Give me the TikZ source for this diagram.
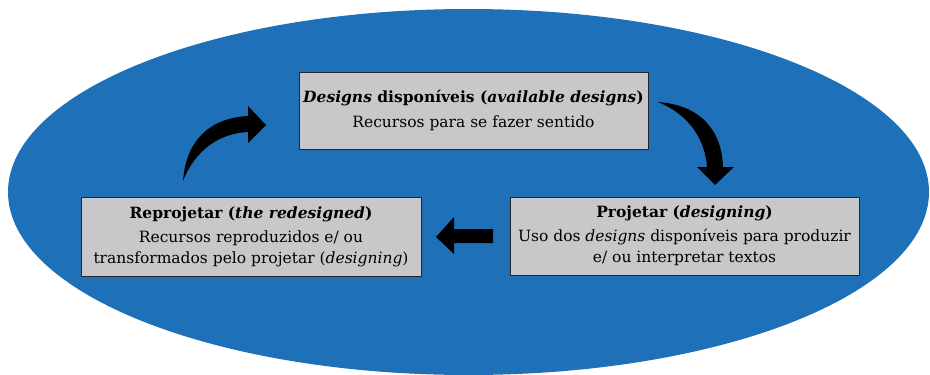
\documentclass[tikz,border=0pt]{standalone}
\usepackage{fontspec}
\setmainfont{DejaVu Serif}
\usetikzlibrary{shapes}
\usetikzlibrary{arrows}
\definecolor{fundo}{RGB}{30,113,184}
\definecolor{caixa}{RGB}{200,200,200}
\begin{document}
\begin{tikzpicture}[x=1pt,y=-1pt]
			\tikzstyle{etapa}=[rectangle,draw=black!85,line width=0.8pt,fill=caixa,align=center,inner sep=0pt,font=\fontsize{15.5}{21}\selectfont]
			\tikzstyle{seta}=[fill=black,draw=none]
			\useasboundingbox (0,0) rectangle (930,375);
			\fill[fundo] (468.5,192) ellipse [x radius=460.5,y radius=183];
			
			\node[etapa,minimum width=349,minimum height=77] (disponiveis) at (473.5,110.5) {\textbf{\textit{Designs} disponíveis (\textit{available designs})}\\[4pt] Recursos para se fazer sentido};
			\node[etapa,minimum width=349,minimum height=78] (projetar) at (684.5,236) {\textbf{Projetar (\textit{designing})}\\[3pt] Uso dos \textit{designs} disponíveis para produzir\\ e/ ou interpretar textos};
			\node[etapa,minimum width=340,minimum height=79] (reprojetar) at (251,236.5) {\textbf{Reprojetar (\textit{the redesigned})}\\[3pt] Recursos reproduzidos e/ ou\\ transformados pelo projetar (\textit{designing})};
			
			% setas entre as etapas
			\fill[seta] (658,102) .. controls (700,105) and (722,130) .. (723,167) -- (734,167) -- (715,185) -- (697,167) -- (707,167) .. controls (705,140) and (690,115) .. cycle;
			\fill[seta] (493,229) -- (454,229) -- (454,217) -- (436,237) -- (454,254) -- (454,243) -- (493,243) -- cycle;
			\fill[seta] (183,181) .. controls (186,140) and (210,118) .. (248,116) -- (248,106) -- (266,125) -- (248,143) -- (248,132) .. controls (220,133) and (195,150) .. cycle;
\end{tikzpicture}
\end{document}
